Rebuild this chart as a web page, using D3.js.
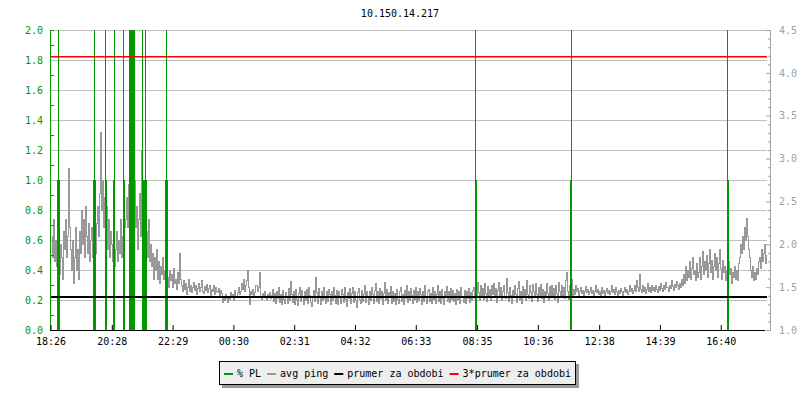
<!DOCTYPE html>
<html><head><meta charset="utf-8">
<script src="https://cdn.jsdelivr.net/npm/d3@7/dist/d3.min.js"></script>
<style>
body{margin:0;background:#fff}
text{font-family:"DejaVu Sans Mono",monospace;font-size:10px}
</style>
</head><body>
<svg id="chart" width="800" height="400"></svg>
<script>
const title = "10.150.14.217";
const tickMinutes = [0,122,243,364,485,606,727,849,970,1092,1213,1334];
const tickLabels = ["18:26","20:28","22:29","00:30","02:31","04:32","06:33","08:35","10:36","12:38","14:39","16:40"];
const leftTicks = [0,0.2,0.4,0.6,0.8,1.0,1.2,1.4,1.6,1.8,2.0];
const rightTicks = [1.0,1.5,2.0,2.5,3.0,3.5,4.0,4.5];
const pingStepMinutes = 2;
const avgPing = [
2.1,1.85,2.3,1.8,2.05,1.75,1.62,1.9,1.65,2.0,1.85,1.6,2.15,1.95,2.3,1.85,2.1,2.89,2.2,1.95,
1.7,2.05,1.55,1.85,2.2,1.7,1.95,1.6,2.15,1.9,2.4,2.0,2.3,1.85,2.45,2.1,1.9,2.25,1.8,2.05,
2.2,1.85,2.3,2.0,1.9,2.25,2.45,2.1,2.6,3.31,2.4,2.75,2.2,2.55,2.0,2.45,1.95,2.3,1.85,2.15,
2.0,1.8,2.1,1.75,1.95,2.15,1.8,2.05,1.9,2.3,1.85,2.1,1.95,2.2,2.3,2.55,2.2,2.7,2.4,2.6,
2.3,2.89,2.5,2.75,2.2,2.45,1.95,2.3,2.6,2.1,3.1,2.4,2.2,2.5,1.9,2.15,1.85,2.3,1.8,2.0,
1.75,1.9,1.6,1.85,1.7,1.95,1.6,1.8,1.55,1.75,1.65,1.85,1.6,1.7,1.55,1.8,1.62,1.5,1.7,1.58,
1.65,1.5,1.72,1.55,1.6,1.48,1.68,1.55,1.9,1.6,1.52,1.45,1.58,1.48,1.55,1.42,1.5,1.6,1.46,1.53,
1.44,1.5,1.56,1.47,1.52,1.42,1.49,1.55,1.45,1.5,1.58,1.46,1.43,1.51,1.47,1.54,1.44,1.49,1.52,1.41,
1.48,1.45,1.53,1.42,1.5,1.46,1.44,1.49,1.4,1.47,1.43,1.33,1.38,1.35,1.42,1.37,1.33,1.4,1.36,1.44,
1.39,1.42,1.35,1.47,1.4,1.38,1.44,1.5,1.42,1.46,1.55,1.48,1.6,1.45,1.52,1.58,1.7,1.5,1.3,1.45,
1.42,1.48,1.38,1.44,1.52,1.46,1.5,1.68,1.4,1.36,1.43,1.38,1.45,1.4,1.36,1.42,1.39,1.44,1.37,1.41,
1.48,1.34,1.43,1.31,1.45,1.37,1.5,1.33,1.42,1.3,1.47,1.36,1.32,1.44,1.4,1.31,1.49,1.35,1.57,1.42,
1.33,1.46,1.3,1.48,1.36,1.29,1.43,1.5,1.34,1.47,1.38,1.3,1.45,1.35,1.48,1.32,1.5,1.41,1.33,1.28,
1.4,1.47,1.34,1.62,1.44,1.31,1.49,1.38,1.3,1.46,1.35,1.5,1.37,1.31,1.45,1.34,1.48,1.42,1.3,1.46,
1.35,1.5,1.41,1.32,1.47,1.3,1.45,1.38,1.31,1.48,1.42,1.33,1.5,1.36,1.28,1.44,1.37,1.49,1.32,1.43,
1.5,1.33,1.46,1.35,1.27,1.44,1.49,1.36,1.31,1.47,1.34,1.42,1.53,1.33,1.46,1.38,1.3,1.45,1.35,1.5,
1.42,1.31,1.47,1.55,1.34,1.45,1.32,1.49,1.37,1.46,1.3,1.43,1.56,1.35,1.48,1.32,1.44,1.38,1.51,1.31,
1.46,1.34,1.43,1.3,1.48,1.36,1.32,1.45,1.5,1.34,1.42,1.3,1.47,1.37,1.52,1.33,1.45,1.35,1.49,1.41,
1.31,1.47,1.36,1.5,1.33,1.45,1.35,1.49,1.42,1.3,1.46,1.34,1.52,1.38,1.31,1.45,1.48,1.34,1.43,1.32,
1.5,1.36,1.46,1.31,1.42,1.53,1.34,1.45,1.32,1.48,1.37,1.3,1.46,1.41,1.51,1.34,1.45,1.33,1.49,1.36,
1.47,1.34,1.43,1.3,1.48,1.36,1.45,1.32,1.5,1.4,1.33,1.47,1.31,1.45,1.37,1.49,1.33,1.44,1.35,1.47,
1.5,1.37,1.52,1.4,1.56,1.44,1.35,1.53,1.41,1.49,1.36,1.55,1.43,1.34,1.51,1.4,1.48,1.35,1.52,1.42,
1.55,1.38,1.49,1.33,1.47,1.56,1.39,1.5,1.35,1.46,1.53,1.4,1.37,1.61,1.44,1.34,1.5,1.41,1.32,1.47,
1.39,1.53,1.42,1.33,1.49,1.57,1.36,1.46,1.31,1.51,1.4,1.48,1.35,1.58,1.42,1.37,1.52,1.44,1.34,1.54,
1.45,1.38,1.55,1.42,1.34,1.5,1.41,1.54,1.37,1.48,1.33,1.46,1.4,1.55,1.43,1.35,1.51,1.41,1.53,1.38,
1.49,1.36,1.52,1.43,1.33,1.56,1.45,1.38,1.53,1.41,1.5,1.37,1.58,1.68,1.46,1.36,1.52,1.42,1.6,1.39,
1.48,1.42,1.52,1.45,1.49,1.41,1.46,1.5,1.43,1.47,1.4,1.45,1.51,1.44,1.48,1.42,1.46,1.5,1.43,1.47,
1.41,1.45,1.52,1.44,1.48,1.42,1.46,1.4,1.5,1.43,1.47,1.41,1.45,1.49,1.43,1.47,1.42,1.46,1.52,1.44,
1.48,1.42,1.5,1.45,1.41,1.47,1.43,1.49,1.45,1.4,1.46,1.5,1.44,1.48,1.42,1.46,1.53,1.45,1.49,1.43,
1.47,1.52,1.45,1.58,1.5,1.46,1.65,1.48,1.44,1.52,1.46,1.5,1.43,1.48,1.55,1.46,1.5,1.44,1.52,1.47,
1.5,1.45,1.53,1.48,1.44,1.51,1.47,1.55,1.49,1.45,1.52,1.48,1.56,1.5,1.46,1.53,1.49,1.58,1.51,1.47,
1.54,1.5,1.57,1.52,1.48,1.55,1.5,1.6,1.53,1.65,1.55,1.75,1.58,1.7,1.62,1.8,1.6,1.72,1.85,1.65,
1.7,1.58,1.78,1.62,1.68,1.85,1.6,1.75,1.92,1.65,1.8,1.7,1.88,1.62,1.78,1.95,1.68,1.82,1.6,1.75,
1.9,1.7,1.85,1.62,1.78,1.95,1.72,1.6,1.82,1.68,1.75,1.58,1.7,1.62,1.8,1.65,1.72,1.55,1.68,1.62,
1.75,1.6,1.7,1.58,1.78,1.85,2.0,1.9,2.1,1.95,2.2,2.05,2.31,2.1,1.95,1.85,1.7,1.62,1.75,1.58,
1.68,1.6,1.72,1.65,1.8,1.85,1.72,1.95,1.8,1.9,2.0,1.78,1.88,1.7,1.85,1.75,1.8
];
const plStepMinutes = 2;
const plTimes  = [12,14,16, 84,86,88, 108,110, 124,126, 144,146, 156,158,160,162,164,166, 182,184,186,188,190, 228,230,232, 844,846, 1034,1036, 1346,1348];
const plValues = [1,5,1,   1,5,1,    5,1,     1,5,     5,1,     5,5,5,5,5,5,             5,1,1,5,1,           1,5,1,       5,1,     1,5,       5,1];
const prumer = 1.395;
const legendLabels = ["% PL","avg ping","prumer za obdobi","3*prumer za obdobi"];
const legendColors = ["#009900","#999999","#000000","#ff0000"];

const svg = d3.select("#chart");
const L = 50, R = 770, T = 30, B = 330;
const x = d3.scaleLinear().domain([0,1432]).range([50.5,770]);
const yL = d3.scaleLinear().domain([0,2]).range([B,T]).clamp(true);
const yR = d3.scaleLinear().domain([1,4.5]).range([B,T]);

svg.append("defs").append("clipPath").attr("id","clip")
  .append("rect").attr("x",L).attr("y",T).attr("width",R-3-L).attr("height",B-T);

svg.append("text").attr("x",400).attr("y",17).attr("text-anchor","middle").attr("fill","#000").text(title);

const grid = svg.append("g").attr("transform",`translate(${L},0)`)
  .call(d3.axisLeft(yL).tickValues(leftTicks.slice(1)).tickSize(-(R-3-L)).tickFormat(""));
grid.select(".domain").remove();
grid.selectAll("line").attr("stroke","#c0c0c0").attr("shape-rendering","crispEdges");

const plot = svg.append("g").attr("clip-path","url(#clip)");

const pingData = avgPing.map((v,i)=>({t:i*pingStepMinutes,v}));
plot.append("path").datum(pingData)
  .attr("fill","none").attr("stroke","#999999").attr("stroke-width",1)
  .attr("shape-rendering","crispEdges")
  .attr("d", d3.line().x(d=>Math.round(x(d.t))+0.5).y(d=>Math.round(yR(d.v))+0.5).curve(d3.curveStepAfter));

const plData = plTimes.map((t,i)=>({t,v:plValues[i]}));
plot.selectAll("rect.pl").data(plData).join("rect").attr("class","pl")
  .attr("x",d=>Math.round(x(d.t)))
  .attr("width",d=>Math.max(1,Math.round(x(d.t+plStepMinutes))-Math.round(x(d.t))))
  .attr("y",d=>yL(d.v))
  .attr("height",d=>B-yL(d.v))
  .attr("fill","#009900").attr("shape-rendering","crispEdges");

const yMean = Math.round(yR(prumer)) + 1;
svg.append("line").attr("x1",L).attr("x2",R-3).attr("y1",yMean).attr("y2",yMean)
  .attr("stroke","#000").attr("stroke-width",2).attr("shape-rendering","crispEdges");
const y3 = yR(3*prumer) - 0.25;
svg.append("line").attr("x1",L).attr("x2",R-3).attr("y1",y3).attr("y2",y3)
  .attr("stroke","#ff0000").attr("stroke-width",1.5);

const minorL = d3.range(1,20,2).map(d=>d/10);
const la = svg.append("g").attr("transform",`translate(${L},0)`)
  .call(d3.axisLeft(yL).tickValues(minorL).tickSize(-4).tickFormat(""));
la.selectAll("line").attr("stroke","#009900");
la.select(".domain").attr("stroke","#009900");
const lal = svg.append("g").attr("transform",`translate(${L},0)`)
  .call(d3.axisLeft(yL).tickValues(leftTicks).tickSize(0).tickPadding(7).tickFormat(d3.format(".1f")));
lal.select(".domain").remove();
lal.selectAll("text").attr("fill","#009900").style("font-family",'"DejaVu Sans Mono",monospace').style("font-size","10px");

const minorR = d3.range(10,46,1).map(d=>d/10).filter(d=>Math.abs(d*2-Math.round(d*2))>1e-6);
const ra = svg.append("g").attr("transform",`translate(${R},0)`)
  .call(d3.axisRight(yR).tickValues(minorR).tickSize(-2).tickFormat(""));
ra.selectAll("line").attr("stroke","#a0a0a0");
ra.select(".domain").attr("stroke","#a0a0a0");
const ral = svg.append("g").attr("transform",`translate(${R},0)`)
  .call(d3.axisRight(yR).tickValues(rightTicks).tickSize(-4).tickPadding(9).tickFormat(d3.format(".1f")));
ral.select(".domain").remove();
ral.selectAll("line").attr("stroke","#a0a0a0");
ral.selectAll("text").attr("fill","#a0a0a0").style("font-family",'"DejaVu Sans Mono",monospace').style("font-size","10px");

const xa = svg.append("g").attr("transform",`translate(0,${B})`)
  .call(d3.axisBottom(x).tickValues(tickMinutes).tickSize(-5).tickPadding(8).tickFormat((d,i)=>tickLabels[i]));
xa.select(".domain").attr("d",`M${L},0.5H${R-5}`).attr("stroke","#000");
xa.selectAll("line").attr("stroke","#000");
xa.selectAll("text").attr("fill","#000").style("font-family",'"DejaVu Sans Mono",monospace').style("font-size","10px");

const lg = svg.append("g");
const bx = 219, by = 361, bh = 23;
const shadow = lg.append("rect").attr("fill","#999999");
const box = lg.append("rect").attr("fill","#eeeeee").attr("stroke","#000").attr("shape-rendering","crispEdges");
let cx = bx + 5;
legendLabels.forEach((lab,i)=>{
  lg.append("rect").attr("x",cx).attr("y",by+12).attr("width",9).attr("height",2).attr("fill",legendColors[i]);
  const t = lg.append("text").attr("x",cx+13).attr("y",by+15.5).attr("fill","#000").text(lab);
  cx += 13 + t.node().getComputedTextLength() + 6;
});
const bw = cx - bx - 2;
box.attr("x",bx+0.5).attr("y",by+0.5).attr("width",bw).attr("height",bh);
shadow.attr("x",bx+3).attr("y",by+3).attr("width",bw+1).attr("height",bh+1);
</script>
</body></html>
